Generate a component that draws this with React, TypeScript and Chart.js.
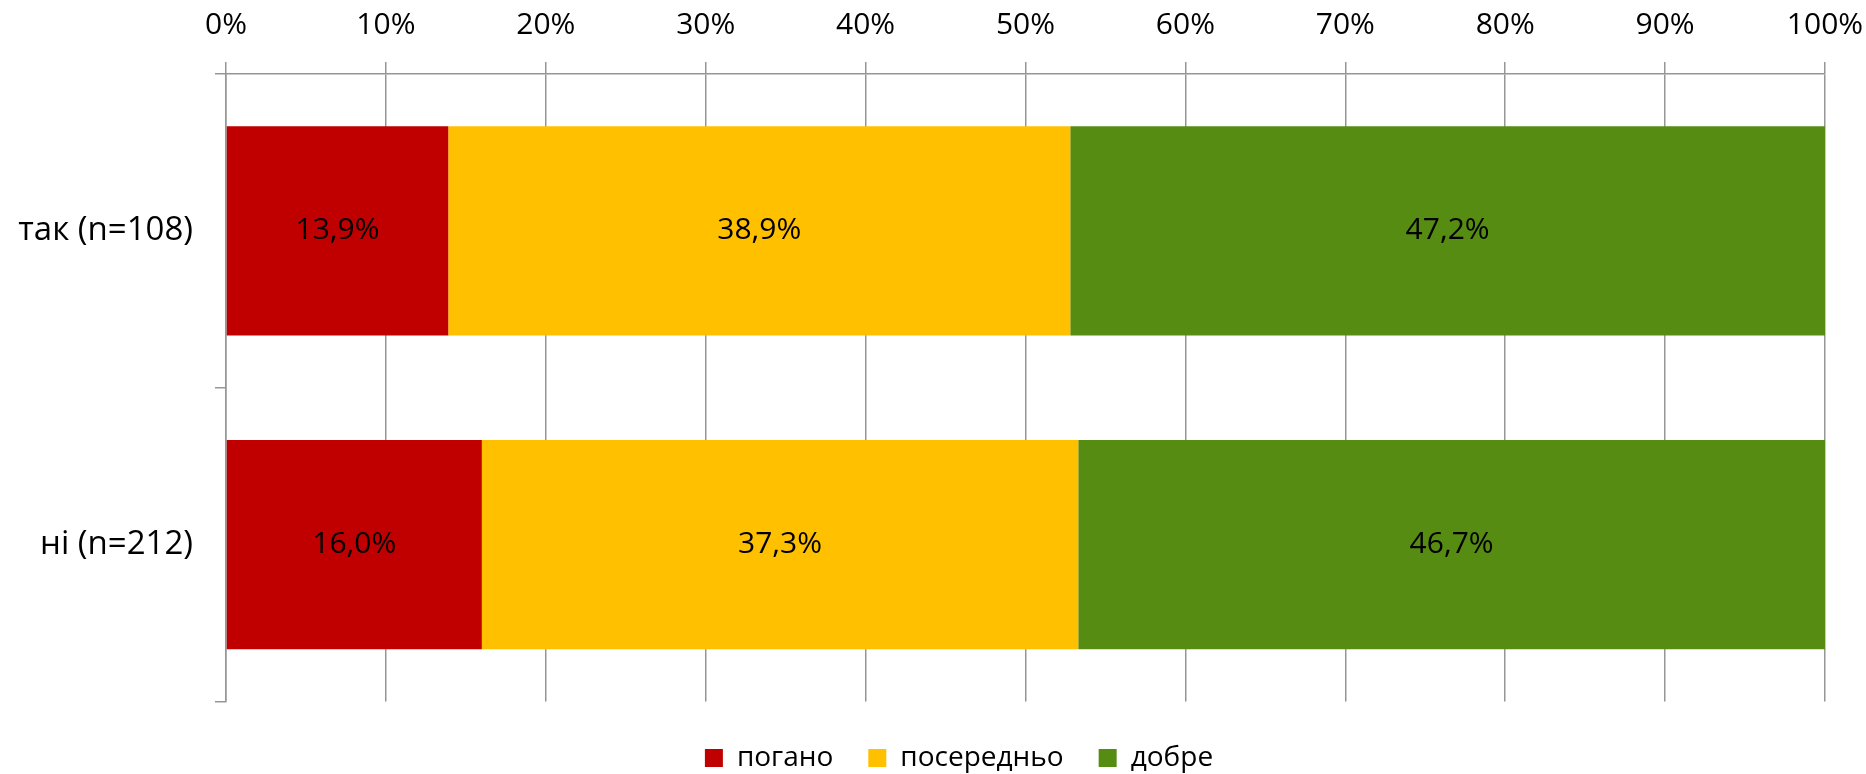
import React, { useEffect, useRef } from 'react';
import { Chart, registerables } from 'chart.js';

Chart.register(...registerables);

const categories = ['так (n=108)', 'ні (n=212)'];
const seriesNames = ['погано', 'посередньо', 'добре'];
const badValues = [13.9, 16.0];
const midValues = [38.9, 37.3];
const goodValues = [47.2, 46.7];
const seriesColors = ['#C00000', '#FFC000', '#578C13'];
const axisMin = 0;
const axisMax = 100;
const axisStep = 10;

const FONT = '"Open Sans", "DejaVu Sans", sans-serif';
const GRID = '#969696';

const valueLabels = {
  id: 'valueLabels',
  afterDatasetsDraw(chart: any) {
    const ctx = chart.ctx;
    ctx.save();
    ctx.font = `30px ${FONT}`;
    ctx.fillStyle = '#000';
    ctx.textAlign = 'center';
    ctx.textBaseline = 'middle';
    chart.data.datasets.forEach((ds: any, i: number) => {
      const meta = chart.getDatasetMeta(i);
      meta.data.forEach((el: any, j: number) => {
        const v = ds.data[j] as number;
        const p = el.getCenterPoint();
        ctx.fillText(v.toFixed(1).replace('.', ',') + '%', p.x, p.y);
      });
    });
    ctx.restore();
  },
};

// shift the built-in legend's horizontal span so its centre matches the reference
const legendSpan = {
  id: 'legendSpan',
  afterLayout(chart: any) {
    if (chart.legend) {
      chart.legend.left = 93;
    }
  },
};

export default function App() {
  const ref = useRef<HTMLCanvasElement | null>(null);

  useEffect(() => {
    if (!ref.current) return;
    Chart.defaults.font.family = FONT;
    const seriesValues = [badValues, midValues, goodValues];
    const chart = new Chart(ref.current, {
      type: 'bar',
      data: {
        labels: categories,
        datasets: seriesNames.map((name, i) => ({
          label: name,
          data: seriesValues[i],
          backgroundColor: seriesColors[i],
          borderWidth: 0,
          barPercentage: 0.667,
          categoryPercentage: 1.0,
        })),
      },
      options: {
        indexAxis: 'y',
        responsive: true,
        maintainAspectRatio: false,
        animation: false,
        layout: { padding: { left: 0, right: 41, top: 0, bottom: -8 } },
        plugins: {
          tooltip: { enabled: false },
          legend: {
            position: 'bottom',
            labels: {
              boxWidth: 18,
              boxHeight: 18,
              padding: 35,
              color: '#000',
              font: { size: 28, family: FONT },
            },
            title: { display: true, text: '', font: { size: 6, lineHeight: 1.25 }, padding: 0 },
          },
        },
        scales: {
          x: {
            position: 'top',
            stacked: true,
            min: axisMin,
            max: axisMax,
            ticks: {
              stepSize: axisStep,
              callback: (v: any) => v + '%',
              color: '#000',
              font: { size: 30, family: FONT, lineHeight: 1.2 },
              padding: 19,
              maxRotation: 0,
              autoSkip: false,
            },
            grid: { color: GRID, lineWidth: 1.5, tickLength: 12, drawOnChartArea: true },
            border: { display: true, color: GRID, width: 1.5 },
            afterFit: (s: any) => {
              s.height = 74;
              s.paddingLeft = 0;
              s.paddingRight = 0;
            },
          },
          y: {
            stacked: true,
            ticks: { color: '#000', font: { size: 33, family: FONT }, padding: 22 },
            grid: { display: true, drawOnChartArea: false, tickLength: 11, color: GRID, lineWidth: 1.5, offset: true },
            border: { display: true, color: GRID, width: 1.5 },
            afterFit: (s: any) => { s.width = 226; },
          },
        },
      } as any,
      plugins: [valueLabels, legendSpan],
    });
    return () => chart.destroy();
  }, []);

  return (
    <div style={{ position: 'absolute', left: 0, top: 0, width: '1866px', height: '774px' }}>
      <canvas ref={ref} />
    </div>
  );
}
